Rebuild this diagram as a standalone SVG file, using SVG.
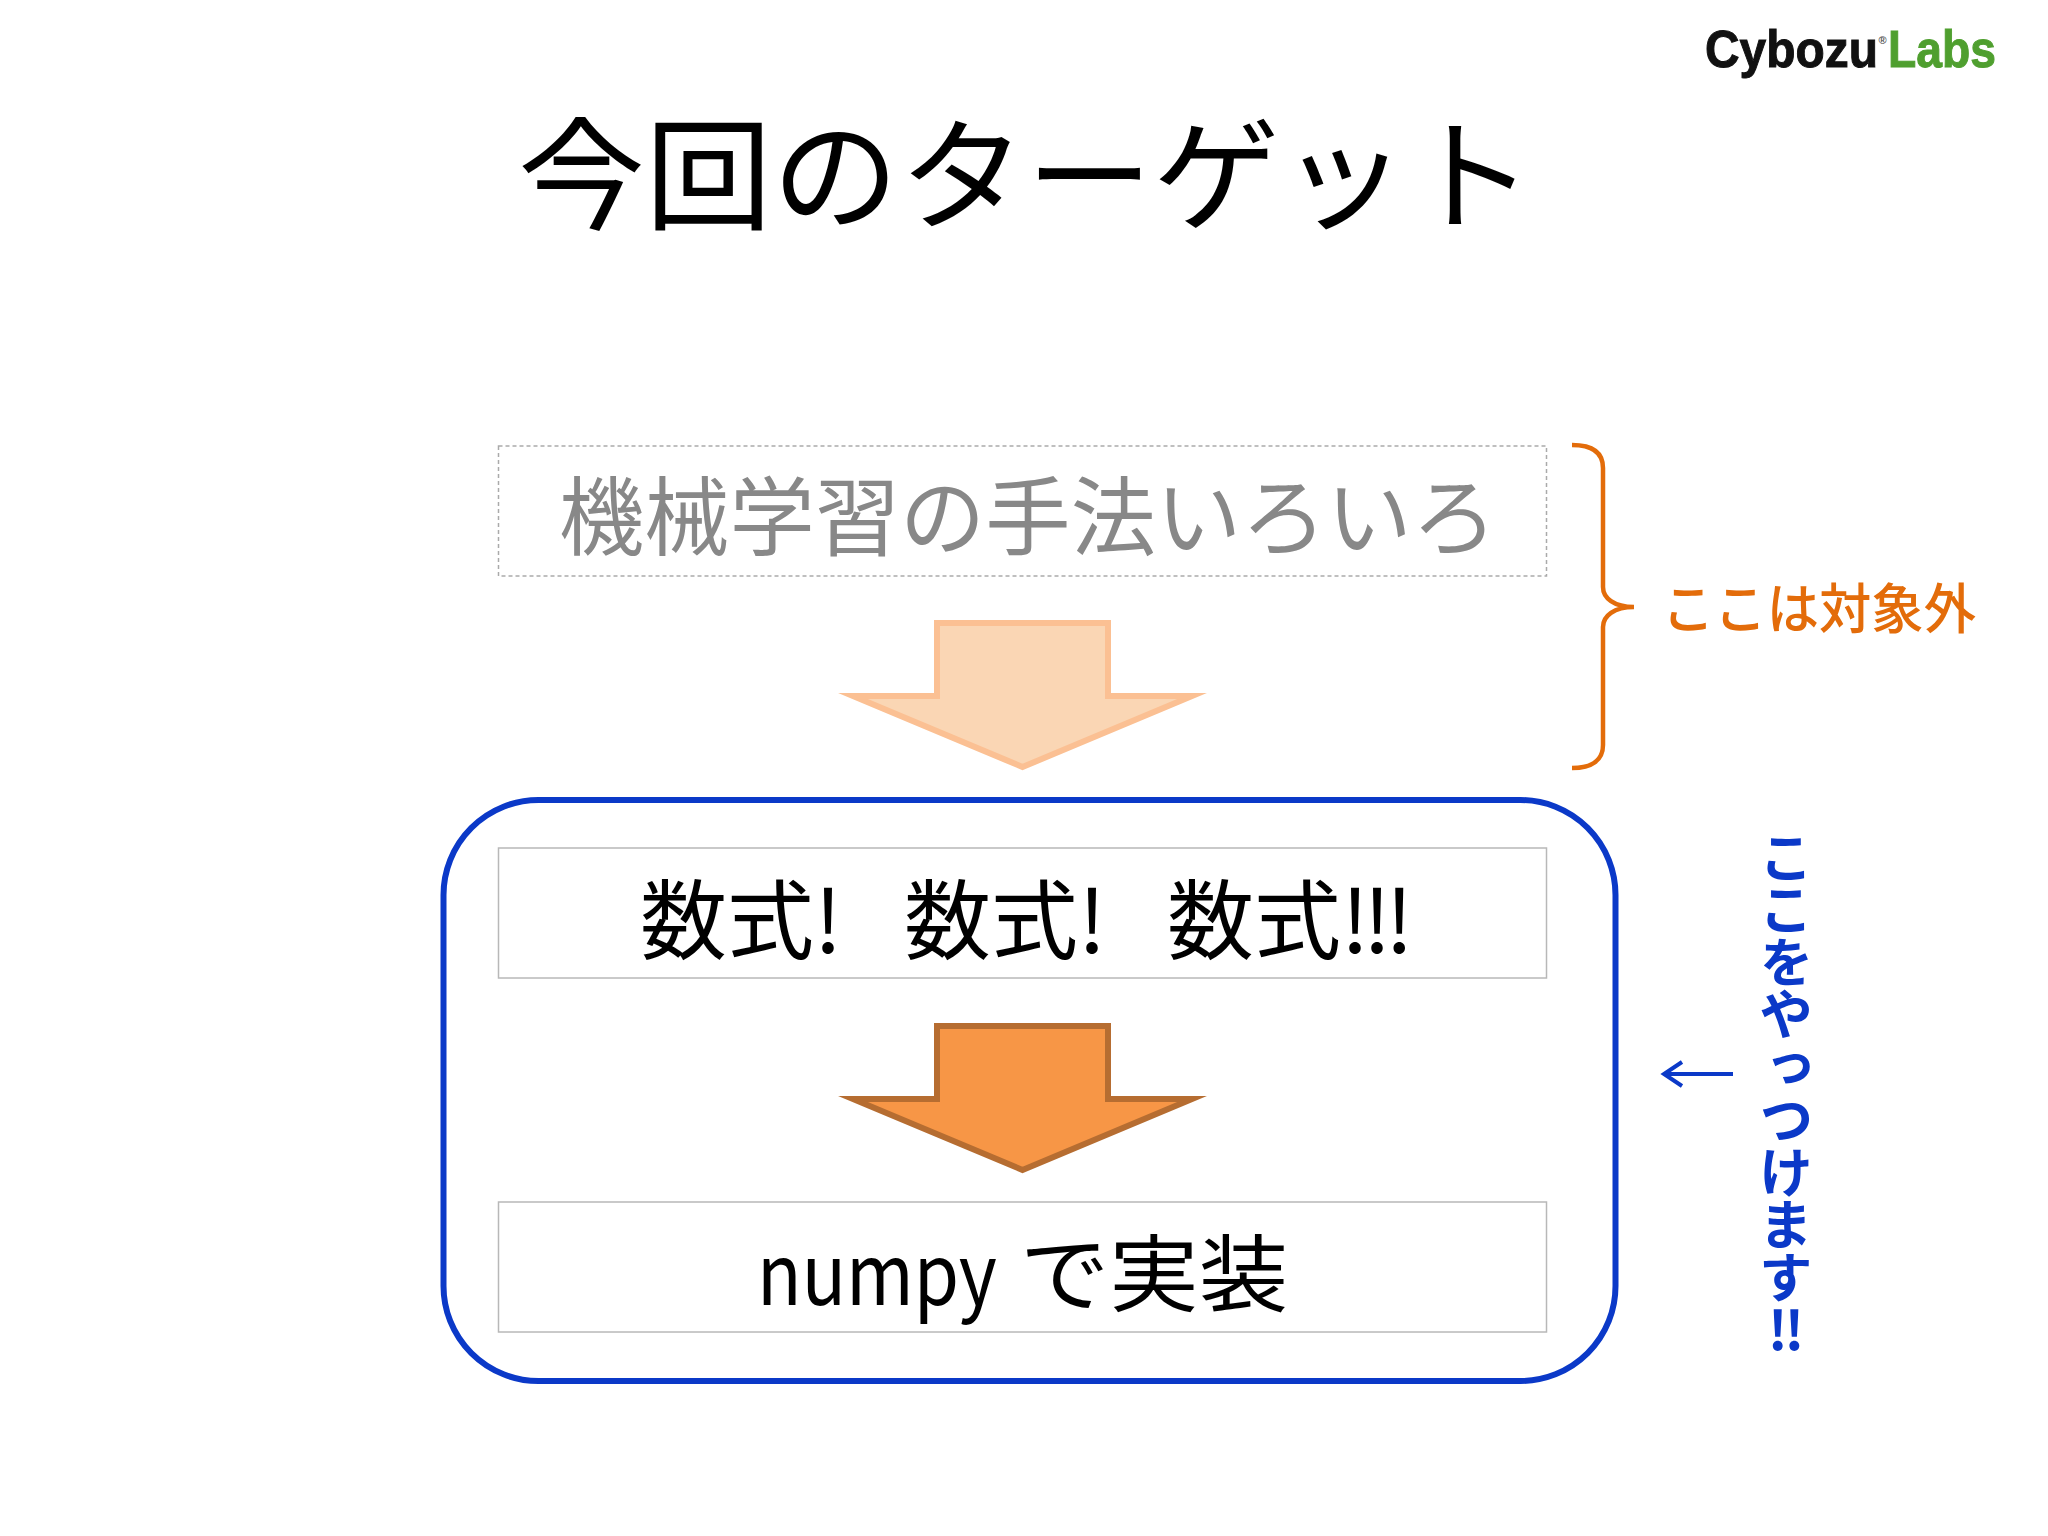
<svg xmlns="http://www.w3.org/2000/svg" width="2048" height="1536" viewBox="0 0 2048 1536">
<style>
.jp{font-family:"Noto Sans CJK JP","Noto Sans",sans-serif}
.box{fill:#fff;stroke:#b8b8b8;stroke-width:1.5}
.t84{font-size:87px;fill:#000}
.arrow{stroke-width:6;stroke-miterlimit:10}
</style>
<rect width="2048" height="1536" fill="#fff"/>
<text id="logo" font-family="'Liberation Sans',Arial,sans-serif" font-weight="700" font-size="52" y="67"><tspan x="1705" y="67" fill="#111" stroke="#111" stroke-width="1" textLength="173" lengthAdjust="spacingAndGlyphs">Cybozu</tspan><tspan x="1878.500" y="44" fill="#555" font-size="11">®</tspan><tspan x="1888" y="67" fill="#4f9f2f" stroke="#4f9f2f" stroke-width="1" textLength="108" lengthAdjust="spacingAndGlyphs">Labs</tspan></text>
<text id="title" class="jp" x="1026" y="220" font-size="122" text-anchor="middle" fill="#000" textLength="1016" lengthAdjust="spacingAndGlyphs">今回のターゲット</text>
<g id="frame"><rect x="443.500" y="800" width="1172" height="581" rx="95" fill="#fff" stroke="#0b39c8" stroke-width="6"/></g>
<g id="node-methods">
<rect x="498.500" y="446" width="1048" height="130" fill="#fff" stroke="#aaa" stroke-width="1.500" stroke-dasharray="4 3"/>
<text class="jp" x="1028" y="549" font-size="86" text-anchor="middle" fill="#888" textLength="938" lengthAdjust="spacingAndGlyphs">機械学習の手法いろいろ</text>
</g>
<g id="node-formula">
<rect class="box" x="498.500" y="848" width="1048" height="130"/>
<text class="jp t84" y="953"><tspan x="640">数式!</tspan><tspan x="904">数式!</tspan><tspan x="1167">数式</tspan><tspan letter-spacing="-6">!!!</tspan></text>
</g>
<g id="node-numpy">
<rect class="box" x="498.500" y="1202" width="1048" height="130"/>
<text class="jp t84" y="1305" style="font-size:84px"><tspan x="757" textLength="240" lengthAdjust="spacingAndGlyphs">numpy</tspan><tspan x="1020"> </tspan><tspan x="1020" textLength="268" lengthAdjust="spacingAndGlyphs">で実装</tspan></text>
</g>
<g id="connectors">
<path id="arrow1" class="arrow" d="M937 623H1108V696H1192L1022.500 767L853 696H937Z" fill="#fad6b4" stroke="#fbc093"/>
<path id="arrow2" class="arrow" d="M937 1026H1108V1099H1192L1022.500 1170L853 1099H937Z" fill="#f79646" stroke="#b66d31"/>
<path id="brace" d="M1572 445C1592 445 1603 452 1603 468V587C1603 598 1614 607 1634 607C1614 607 1603 616 1603 627V745C1603 760 1592 768 1572 768" fill="none" stroke="#e36c0a" stroke-width="4.500"/>
<path id="back-arrow" d="M1733 1074H1664M1682 1062L1664 1074L1682 1086" fill="none" stroke="#0b39c8" stroke-width="4"/>
</g>
<text id="note-out" class="jp" x="1662" y="629" font-size="54" font-weight="500" fill="#e36c0a" textLength="314" lengthAdjust="spacingAndGlyphs">ここは対象外</text>
<text id="note-here" class="jp" x="1786" y="830" font-size="54" font-weight="700" fill="#0b39c8" letter-spacing="-1.500" style="writing-mode:vertical-rl">ここをやっつけます‼</text>
</svg>
